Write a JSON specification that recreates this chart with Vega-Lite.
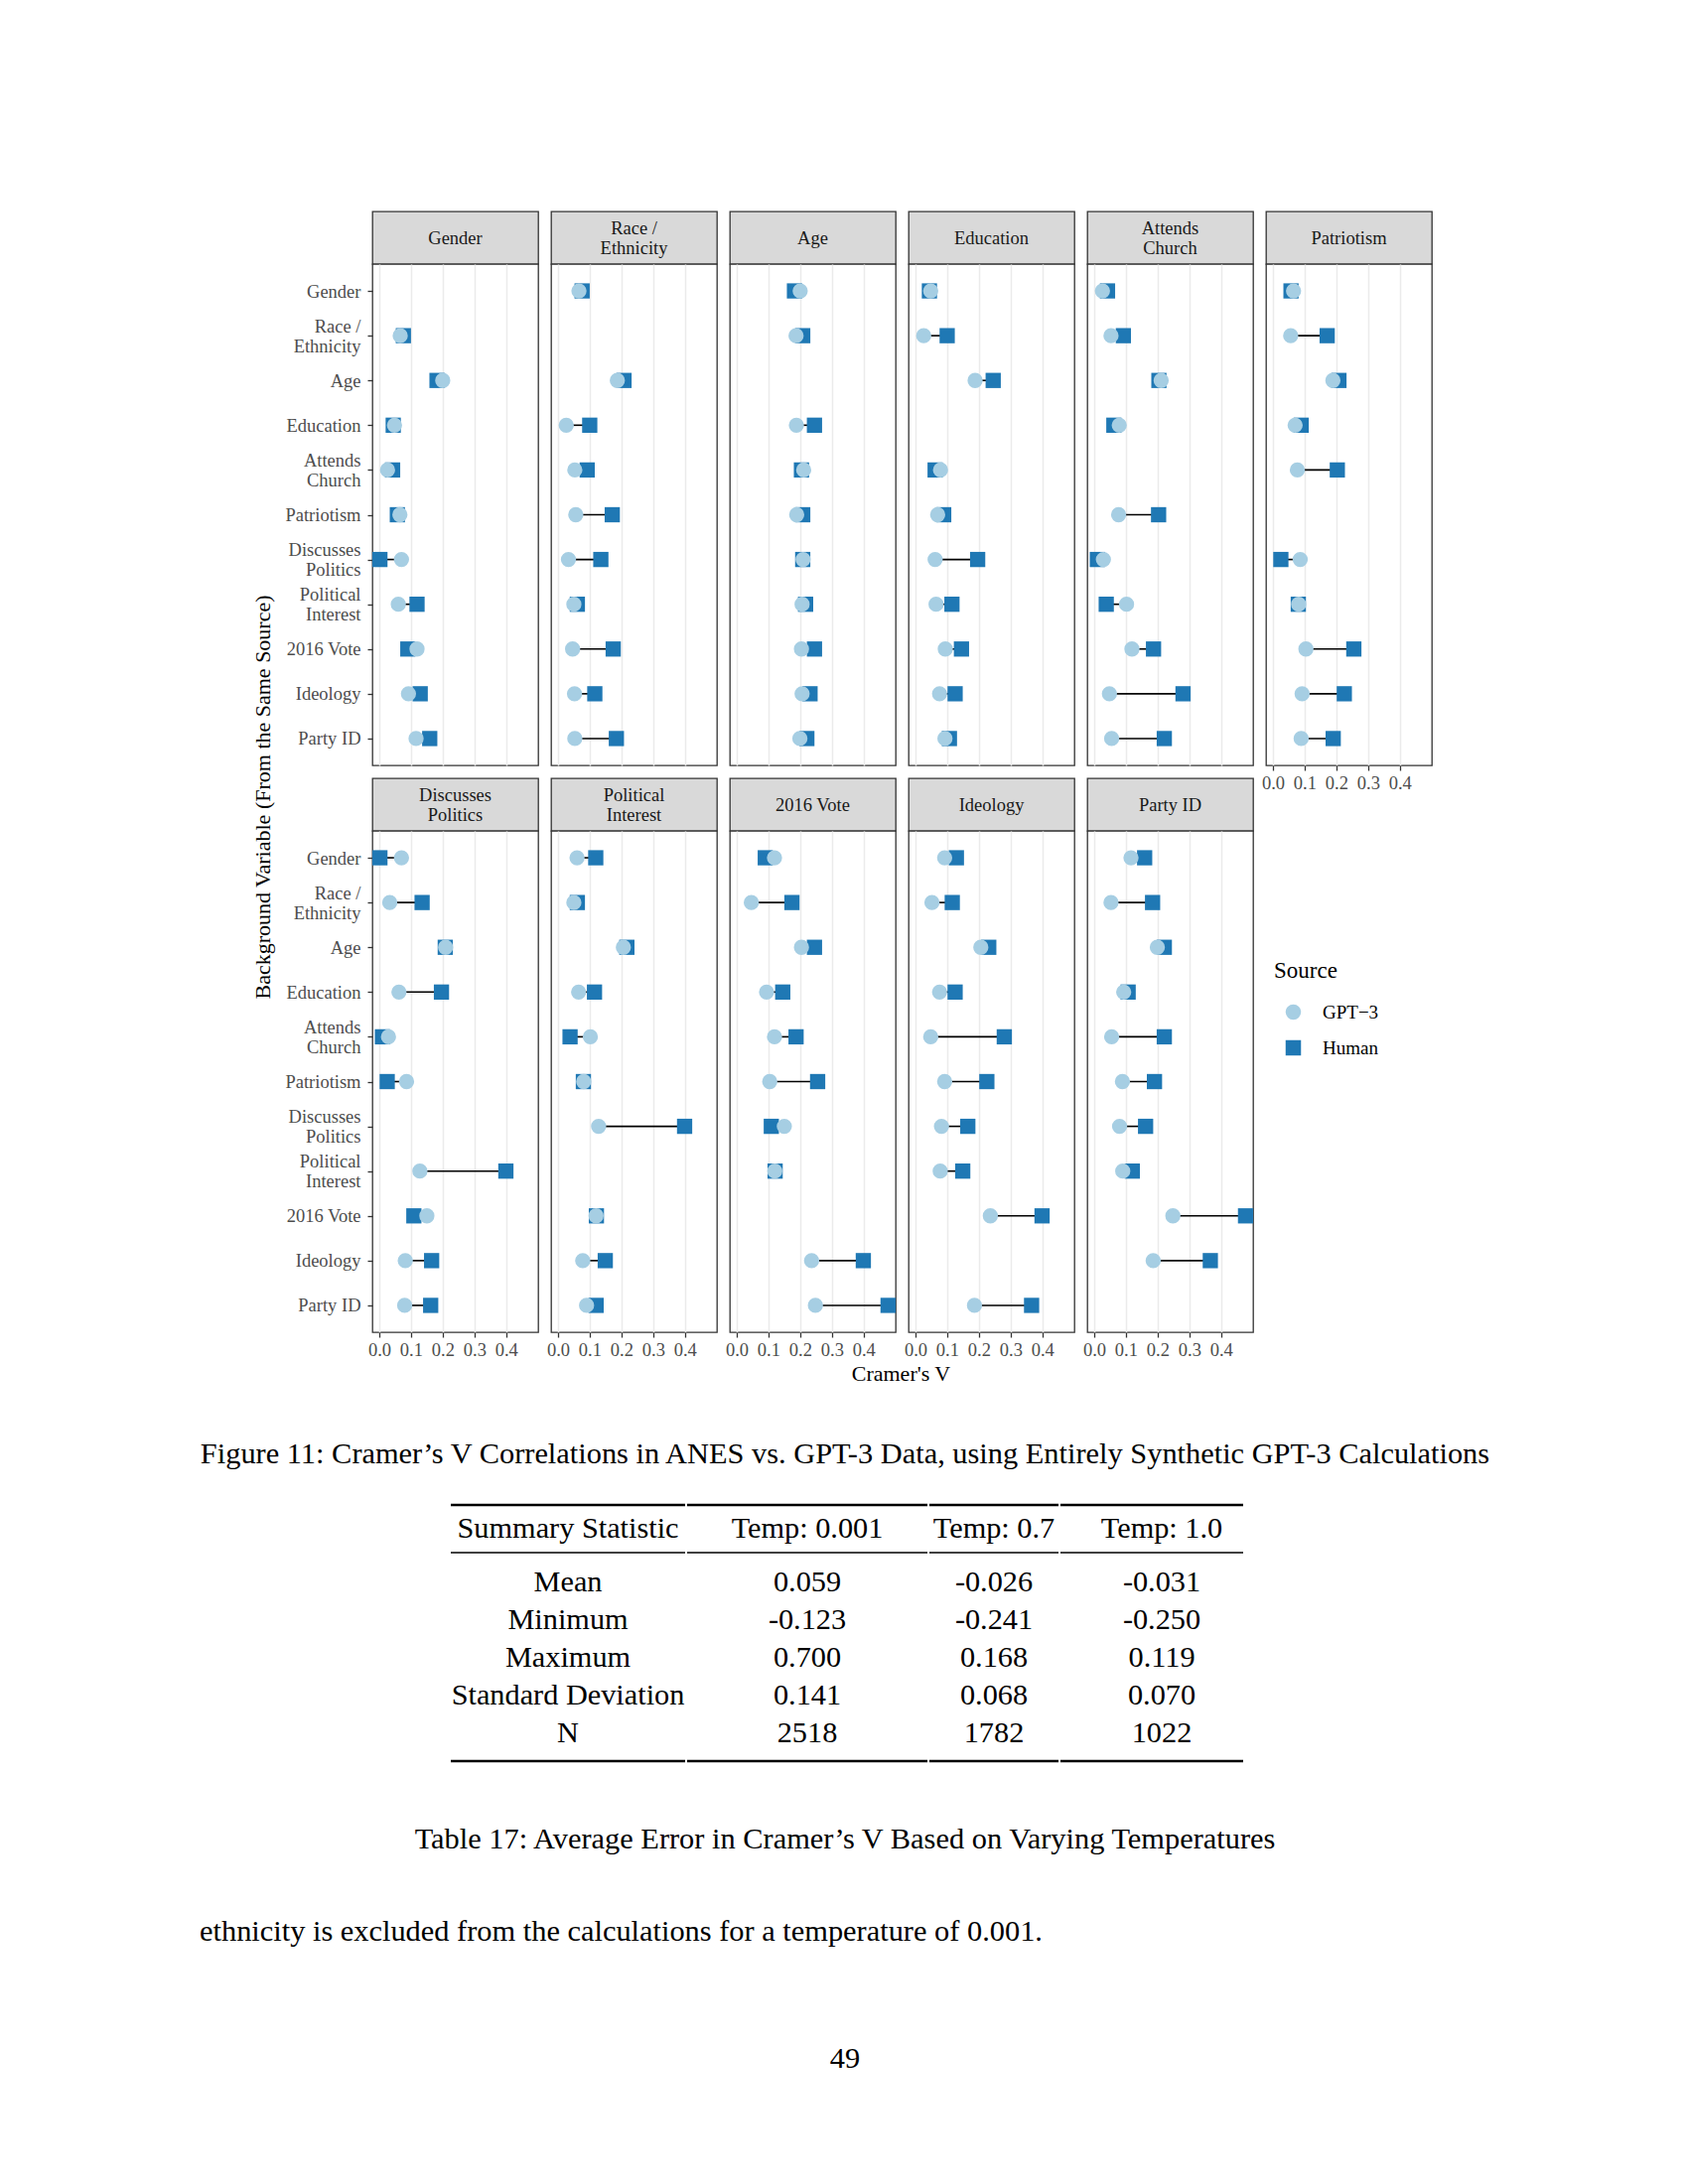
{
"$schema": "https://vega.github.io/schema/vega-lite/v6.json",
"background": "white",
"padding": {"left": 200, "top": 212, "right": 0, "bottom": 0},
"config": {
  "view": {"stroke": null},
  "font": "Liberation Serif",
  "title": {"font": "Liberation Serif", "fontWeight": "normal", "color": "black"},
  "text": {"font": "Liberation Serif"},
  "axis": {"domain": false, "labelFont": "Liberation Serif", "labelFontSize": 18.5, "labelColor": "#4D4D4D", "tickColor": "#333333", "tickWidth": 1.3, "tickSize": 5, "gridColor": "#EBEBEB", "gridWidth": 1.5, "labelPadding": 3},
  "legend": {"orient": "none", "legendX": 1082, "legendY": 754, "titleFont": "Liberation Serif", "titleFontSize": 23, "titleFontWeight": "normal", "titleColor": "black", "labelFont": "Liberation Serif", "labelFontSize": 19, "labelColor": "black", "symbolSize": 240, "rowPadding": 16, "titlePadding": 20, "labelOffset": 20, "symbolOffset": 10, "padding": 0}
},
"datasets": {
  "panels": [
    {"panel": "Gender", "label": "Gender"},
    {"panel": "Race / Ethnicity", "label": "Race /\nEthnicity"},
    {"panel": "Age", "label": "Age"},
    {"panel": "Education", "label": "Education"},
    {"panel": "Attends Church", "label": "Attends\nChurch"},
    {"panel": "Patriotism", "label": "Patriotism"},
    {"panel": "Discusses Politics", "label": "Discusses\nPolitics"},
    {"panel": "Political Interest", "label": "Political\nInterest"},
    {"panel": "2016 Vote", "label": "2016 Vote"},
    {"panel": "Ideology", "label": "Ideology"},
    {"panel": "Party ID", "label": "Party ID"}
  ],
  "tableHeader": [
    {"part": "header", "column": "Summary Statistic"},
    {"part": "header", "column": "Temp: 0.001"},
    {"part": "header", "column": "Temp: 0.7"},
    {"part": "header", "column": "Temp: 1.0"}
  ],
  "table": [
    {"stat": "Mean", "column": "Temp: 0.001", "value": "0.059"},
    {"stat": "Mean", "column": "Temp: 0.7", "value": "-0.026"},
    {"stat": "Mean", "column": "Temp: 1.0", "value": "-0.031"},
    {"stat": "Minimum", "column": "Temp: 0.001", "value": "-0.123"},
    {"stat": "Minimum", "column": "Temp: 0.7", "value": "-0.241"},
    {"stat": "Minimum", "column": "Temp: 1.0", "value": "-0.250"},
    {"stat": "Maximum", "column": "Temp: 0.001", "value": "0.700"},
    {"stat": "Maximum", "column": "Temp: 0.7", "value": "0.168"},
    {"stat": "Maximum", "column": "Temp: 1.0", "value": "0.119"},
    {"stat": "Standard Deviation", "column": "Temp: 0.001", "value": "0.141"},
    {"stat": "Standard Deviation", "column": "Temp: 0.7", "value": "0.068"},
    {"stat": "Standard Deviation", "column": "Temp: 1.0", "value": "0.070"},
    {"stat": "N", "column": "Temp: 0.001", "value": "2518"},
    {"stat": "N", "column": "Temp: 0.7", "value": "1782"},
    {"stat": "N", "column": "Temp: 1.0", "value": "1022"}
  ],
  "cv": [
    {"panel":"Gender","variable":"Race / Ethnicity","source":"GPT−3","cramer":0.066},{"panel":"Gender","variable":"Race / Ethnicity","source":"Human","cramer":0.076},
    {"panel":"Gender","variable":"Age","source":"GPT−3","cramer":0.200},{"panel":"Gender","variable":"Age","source":"Human","cramer":0.182},
    {"panel":"Gender","variable":"Education","source":"GPT−3","cramer":0.048},{"panel":"Gender","variable":"Education","source":"Human","cramer":0.044},
    {"panel":"Gender","variable":"Attends Church","source":"GPT−3","cramer":0.026},{"panel":"Gender","variable":"Attends Church","source":"Human","cramer":0.042},
    {"panel":"Gender","variable":"Patriotism","source":"GPT−3","cramer":0.065},{"panel":"Gender","variable":"Patriotism","source":"Human","cramer":0.057},
    {"panel":"Gender","variable":"Discusses Politics","source":"GPT−3","cramer":0.070},{"panel":"Gender","variable":"Discusses Politics","source":"Human","cramer":0.002},
    {"panel":"Gender","variable":"Political Interest","source":"GPT−3","cramer":0.060},{"panel":"Gender","variable":"Political Interest","source":"Human","cramer":0.119},
    {"panel":"Gender","variable":"2016 Vote","source":"GPT−3","cramer":0.119},{"panel":"Gender","variable":"2016 Vote","source":"Human","cramer":0.090},
    {"panel":"Gender","variable":"Ideology","source":"GPT−3","cramer":0.092},{"panel":"Gender","variable":"Ideology","source":"Human","cramer":0.129},
    {"panel":"Gender","variable":"Party ID","source":"GPT−3","cramer":0.116},{"panel":"Gender","variable":"Party ID","source":"Human","cramer":0.159},

    {"panel":"Race / Ethnicity","variable":"Gender","source":"GPT−3","cramer":0.066},{"panel":"Race / Ethnicity","variable":"Gender","source":"Human","cramer":0.076},
    {"panel":"Race / Ethnicity","variable":"Age","source":"GPT−3","cramer":0.187},{"panel":"Race / Ethnicity","variable":"Age","source":"Human","cramer":0.208},
    {"panel":"Race / Ethnicity","variable":"Education","source":"GPT−3","cramer":0.026},{"panel":"Race / Ethnicity","variable":"Education","source":"Human","cramer":0.100},
    {"panel":"Race / Ethnicity","variable":"Attends Church","source":"GPT−3","cramer":0.053},{"panel":"Race / Ethnicity","variable":"Attends Church","source":"Human","cramer":0.092},
    {"panel":"Race / Ethnicity","variable":"Patriotism","source":"GPT−3","cramer":0.056},{"panel":"Race / Ethnicity","variable":"Patriotism","source":"Human","cramer":0.171},
    {"panel":"Race / Ethnicity","variable":"Discusses Politics","source":"GPT−3","cramer":0.033},{"panel":"Race / Ethnicity","variable":"Discusses Politics","source":"Human","cramer":0.135},
    {"panel":"Race / Ethnicity","variable":"Political Interest","source":"GPT−3","cramer":0.050},{"panel":"Race / Ethnicity","variable":"Political Interest","source":"Human","cramer":0.061},
    {"panel":"Race / Ethnicity","variable":"2016 Vote","source":"GPT−3","cramer":0.046},{"panel":"Race / Ethnicity","variable":"2016 Vote","source":"Human","cramer":0.174},
    {"panel":"Race / Ethnicity","variable":"Ideology","source":"GPT−3","cramer":0.052},{"panel":"Race / Ethnicity","variable":"Ideology","source":"Human","cramer":0.116},
    {"panel":"Race / Ethnicity","variable":"Party ID","source":"GPT−3","cramer":0.053},{"panel":"Race / Ethnicity","variable":"Party ID","source":"Human","cramer":0.184},

    {"panel":"Age","variable":"Gender","source":"GPT−3","cramer":0.200},{"panel":"Age","variable":"Gender","source":"Human","cramer":0.182},
    {"panel":"Age","variable":"Race / Ethnicity","source":"GPT−3","cramer":0.187},{"panel":"Age","variable":"Race / Ethnicity","source":"Human","cramer":0.208},
    {"panel":"Age","variable":"Education","source":"GPT−3","cramer":0.188},{"panel":"Age","variable":"Education","source":"Human","cramer":0.245},
    {"panel":"Age","variable":"Attends Church","source":"GPT−3","cramer":0.211},{"panel":"Age","variable":"Attends Church","source":"Human","cramer":0.204},
    {"panel":"Age","variable":"Patriotism","source":"GPT−3","cramer":0.189},{"panel":"Age","variable":"Patriotism","source":"Human","cramer":0.208},
    {"panel":"Age","variable":"Discusses Politics","source":"GPT−3","cramer":0.209},{"panel":"Age","variable":"Discusses Politics","source":"Human","cramer":0.208},
    {"panel":"Age","variable":"Political Interest","source":"GPT−3","cramer":0.206},{"panel":"Age","variable":"Political Interest","source":"Human","cramer":0.217},
    {"panel":"Age","variable":"2016 Vote","source":"GPT−3","cramer":0.204},{"panel":"Age","variable":"2016 Vote","source":"Human","cramer":0.245},
    {"panel":"Age","variable":"Ideology","source":"GPT−3","cramer":0.206},{"panel":"Age","variable":"Ideology","source":"Human","cramer":0.231},
    {"panel":"Age","variable":"Party ID","source":"GPT−3","cramer":0.199},{"panel":"Age","variable":"Party ID","source":"Human","cramer":0.221},

    {"panel":"Education","variable":"Gender","source":"GPT−3","cramer":0.048},{"panel":"Education","variable":"Gender","source":"Human","cramer":0.044},
    {"panel":"Education","variable":"Race / Ethnicity","source":"GPT−3","cramer":0.026},{"panel":"Education","variable":"Race / Ethnicity","source":"Human","cramer":0.100},
    {"panel":"Education","variable":"Age","source":"GPT−3","cramer":0.188},{"panel":"Education","variable":"Age","source":"Human","cramer":0.245},
    {"panel":"Education","variable":"Attends Church","source":"GPT−3","cramer":0.079},{"panel":"Education","variable":"Attends Church","source":"Human","cramer":0.062},
    {"panel":"Education","variable":"Patriotism","source":"GPT−3","cramer":0.070},{"panel":"Education","variable":"Patriotism","source":"Human","cramer":0.089},
    {"panel":"Education","variable":"Discusses Politics","source":"GPT−3","cramer":0.062},{"panel":"Education","variable":"Discusses Politics","source":"Human","cramer":0.196},
    {"panel":"Education","variable":"Political Interest","source":"GPT−3","cramer":0.065},{"panel":"Education","variable":"Political Interest","source":"Human","cramer":0.115},
    {"panel":"Education","variable":"2016 Vote","source":"GPT−3","cramer":0.094},{"panel":"Education","variable":"2016 Vote","source":"Human","cramer":0.145},
    {"panel":"Education","variable":"Ideology","source":"GPT−3","cramer":0.076},{"panel":"Education","variable":"Ideology","source":"Human","cramer":0.125},
    {"panel":"Education","variable":"Party ID","source":"GPT−3","cramer":0.093},{"panel":"Education","variable":"Party ID","source":"Human","cramer":0.107},

    {"panel":"Attends Church","variable":"Gender","source":"GPT−3","cramer":0.026},{"panel":"Attends Church","variable":"Gender","source":"Human","cramer":0.042},
    {"panel":"Attends Church","variable":"Race / Ethnicity","source":"GPT−3","cramer":0.053},{"panel":"Attends Church","variable":"Race / Ethnicity","source":"Human","cramer":0.092},
    {"panel":"Attends Church","variable":"Age","source":"GPT−3","cramer":0.211},{"panel":"Attends Church","variable":"Age","source":"Human","cramer":0.204},
    {"panel":"Attends Church","variable":"Education","source":"GPT−3","cramer":0.079},{"panel":"Attends Church","variable":"Education","source":"Human","cramer":0.062},
    {"panel":"Attends Church","variable":"Patriotism","source":"GPT−3","cramer":0.077},{"panel":"Attends Church","variable":"Patriotism","source":"Human","cramer":0.203},
    {"panel":"Attends Church","variable":"Discusses Politics","source":"GPT−3","cramer":0.029},{"panel":"Attends Church","variable":"Discusses Politics","source":"Human","cramer":0.010},
    {"panel":"Attends Church","variable":"Political Interest","source":"GPT−3","cramer":0.102},{"panel":"Attends Church","variable":"Political Interest","source":"Human","cramer":0.038},
    {"panel":"Attends Church","variable":"2016 Vote","source":"GPT−3","cramer":0.119},{"panel":"Attends Church","variable":"2016 Vote","source":"Human","cramer":0.187},
    {"panel":"Attends Church","variable":"Ideology","source":"GPT−3","cramer":0.048},{"panel":"Attends Church","variable":"Ideology","source":"Human","cramer":0.280},
    {"panel":"Attends Church","variable":"Party ID","source":"GPT−3","cramer":0.055},{"panel":"Attends Church","variable":"Party ID","source":"Human","cramer":0.221},

    {"panel":"Patriotism","variable":"Gender","source":"GPT−3","cramer":0.065},{"panel":"Patriotism","variable":"Gender","source":"Human","cramer":0.057},
    {"panel":"Patriotism","variable":"Race / Ethnicity","source":"GPT−3","cramer":0.056},{"panel":"Patriotism","variable":"Race / Ethnicity","source":"Human","cramer":0.171},
    {"panel":"Patriotism","variable":"Age","source":"GPT−3","cramer":0.189},{"panel":"Patriotism","variable":"Age","source":"Human","cramer":0.208},
    {"panel":"Patriotism","variable":"Education","source":"GPT−3","cramer":0.070},{"panel":"Patriotism","variable":"Education","source":"Human","cramer":0.089},
    {"panel":"Patriotism","variable":"Attends Church","source":"GPT−3","cramer":0.077},{"panel":"Patriotism","variable":"Attends Church","source":"Human","cramer":0.203},
    {"panel":"Patriotism","variable":"Discusses Politics","source":"GPT−3","cramer":0.086},{"panel":"Patriotism","variable":"Discusses Politics","source":"Human","cramer":0.025},
    {"panel":"Patriotism","variable":"Political Interest","source":"GPT−3","cramer":0.081},{"panel":"Patriotism","variable":"Political Interest","source":"Human","cramer":0.080},
    {"panel":"Patriotism","variable":"2016 Vote","source":"GPT−3","cramer":0.104},{"panel":"Patriotism","variable":"2016 Vote","source":"Human","cramer":0.255},
    {"panel":"Patriotism","variable":"Ideology","source":"GPT−3","cramer":0.092},{"panel":"Patriotism","variable":"Ideology","source":"Human","cramer":0.225},
    {"panel":"Patriotism","variable":"Party ID","source":"GPT−3","cramer":0.089},{"panel":"Patriotism","variable":"Party ID","source":"Human","cramer":0.190},

    {"panel":"Discusses Politics","variable":"Gender","source":"GPT−3","cramer":0.070},{"panel":"Discusses Politics","variable":"Gender","source":"Human","cramer":0.002},
    {"panel":"Discusses Politics","variable":"Race / Ethnicity","source":"GPT−3","cramer":0.033},{"panel":"Discusses Politics","variable":"Race / Ethnicity","source":"Human","cramer":0.135},
    {"panel":"Discusses Politics","variable":"Age","source":"GPT−3","cramer":0.209},{"panel":"Discusses Politics","variable":"Age","source":"Human","cramer":0.208},
    {"panel":"Discusses Politics","variable":"Education","source":"GPT−3","cramer":0.062},{"panel":"Discusses Politics","variable":"Education","source":"Human","cramer":0.196},
    {"panel":"Discusses Politics","variable":"Attends Church","source":"GPT−3","cramer":0.029},{"panel":"Discusses Politics","variable":"Attends Church","source":"Human","cramer":0.010},
    {"panel":"Discusses Politics","variable":"Patriotism","source":"GPT−3","cramer":0.086},{"panel":"Discusses Politics","variable":"Patriotism","source":"Human","cramer":0.025},
    {"panel":"Discusses Politics","variable":"Political Interest","source":"GPT−3","cramer":0.128},{"panel":"Discusses Politics","variable":"Political Interest","source":"Human","cramer":0.399},
    {"panel":"Discusses Politics","variable":"2016 Vote","source":"GPT−3","cramer":0.150},{"panel":"Discusses Politics","variable":"2016 Vote","source":"Human","cramer":0.109},
    {"panel":"Discusses Politics","variable":"Ideology","source":"GPT−3","cramer":0.082},{"panel":"Discusses Politics","variable":"Ideology","source":"Human","cramer":0.165},
    {"panel":"Discusses Politics","variable":"Party ID","source":"GPT−3","cramer":0.080},{"panel":"Discusses Politics","variable":"Party ID","source":"Human","cramer":0.162},

    {"panel":"Political Interest","variable":"Gender","source":"GPT−3","cramer":0.060},{"panel":"Political Interest","variable":"Gender","source":"Human","cramer":0.119},
    {"panel":"Political Interest","variable":"Race / Ethnicity","source":"GPT−3","cramer":0.050},{"panel":"Political Interest","variable":"Race / Ethnicity","source":"Human","cramer":0.061},
    {"panel":"Political Interest","variable":"Age","source":"GPT−3","cramer":0.206},{"panel":"Political Interest","variable":"Age","source":"Human","cramer":0.217},
    {"panel":"Political Interest","variable":"Education","source":"GPT−3","cramer":0.065},{"panel":"Political Interest","variable":"Education","source":"Human","cramer":0.115},
    {"panel":"Political Interest","variable":"Attends Church","source":"GPT−3","cramer":0.102},{"panel":"Political Interest","variable":"Attends Church","source":"Human","cramer":0.038},
    {"panel":"Political Interest","variable":"Patriotism","source":"GPT−3","cramer":0.081},{"panel":"Political Interest","variable":"Patriotism","source":"Human","cramer":0.080},
    {"panel":"Political Interest","variable":"Discusses Politics","source":"GPT−3","cramer":0.128},{"panel":"Political Interest","variable":"Discusses Politics","source":"Human","cramer":0.399},
    {"panel":"Political Interest","variable":"2016 Vote","source":"GPT−3","cramer":0.120},{"panel":"Political Interest","variable":"2016 Vote","source":"Human","cramer":0.121},
    {"panel":"Political Interest","variable":"Ideology","source":"GPT−3","cramer":0.078},{"panel":"Political Interest","variable":"Ideology","source":"Human","cramer":0.149},
    {"panel":"Political Interest","variable":"Party ID","source":"GPT−3","cramer":0.090},{"panel":"Political Interest","variable":"Party ID","source":"Human","cramer":0.120},

    {"panel":"2016 Vote","variable":"Gender","source":"GPT−3","cramer":0.119},{"panel":"2016 Vote","variable":"Gender","source":"Human","cramer":0.090},
    {"panel":"2016 Vote","variable":"Race / Ethnicity","source":"GPT−3","cramer":0.046},{"panel":"2016 Vote","variable":"Race / Ethnicity","source":"Human","cramer":0.174},
    {"panel":"2016 Vote","variable":"Age","source":"GPT−3","cramer":0.204},{"panel":"2016 Vote","variable":"Age","source":"Human","cramer":0.245},
    {"panel":"2016 Vote","variable":"Education","source":"GPT−3","cramer":0.094},{"panel":"2016 Vote","variable":"Education","source":"Human","cramer":0.145},
    {"panel":"2016 Vote","variable":"Attends Church","source":"GPT−3","cramer":0.119},{"panel":"2016 Vote","variable":"Attends Church","source":"Human","cramer":0.187},
    {"panel":"2016 Vote","variable":"Patriotism","source":"GPT−3","cramer":0.104},{"panel":"2016 Vote","variable":"Patriotism","source":"Human","cramer":0.255},
    {"panel":"2016 Vote","variable":"Discusses Politics","source":"GPT−3","cramer":0.150},{"panel":"2016 Vote","variable":"Discusses Politics","source":"Human","cramer":0.109},
    {"panel":"2016 Vote","variable":"Political Interest","source":"GPT−3","cramer":0.120},{"panel":"2016 Vote","variable":"Political Interest","source":"Human","cramer":0.121},
    {"panel":"2016 Vote","variable":"Ideology","source":"GPT−3","cramer":0.236},{"panel":"2016 Vote","variable":"Ideology","source":"Human","cramer":0.399},
    {"panel":"2016 Vote","variable":"Party ID","source":"GPT−3","cramer":0.248},{"panel":"2016 Vote","variable":"Party ID","source":"Human","cramer":0.477},

    {"panel":"Ideology","variable":"Gender","source":"GPT−3","cramer":0.092},{"panel":"Ideology","variable":"Gender","source":"Human","cramer":0.129},
    {"panel":"Ideology","variable":"Race / Ethnicity","source":"GPT−3","cramer":0.052},{"panel":"Ideology","variable":"Race / Ethnicity","source":"Human","cramer":0.116},
    {"panel":"Ideology","variable":"Age","source":"GPT−3","cramer":0.206},{"panel":"Ideology","variable":"Age","source":"Human","cramer":0.231},
    {"panel":"Ideology","variable":"Education","source":"GPT−3","cramer":0.076},{"panel":"Ideology","variable":"Education","source":"Human","cramer":0.125},
    {"panel":"Ideology","variable":"Attends Church","source":"GPT−3","cramer":0.048},{"panel":"Ideology","variable":"Attends Church","source":"Human","cramer":0.280},
    {"panel":"Ideology","variable":"Patriotism","source":"GPT−3","cramer":0.092},{"panel":"Ideology","variable":"Patriotism","source":"Human","cramer":0.225},
    {"panel":"Ideology","variable":"Discusses Politics","source":"GPT−3","cramer":0.082},{"panel":"Ideology","variable":"Discusses Politics","source":"Human","cramer":0.165},
    {"panel":"Ideology","variable":"Political Interest","source":"GPT−3","cramer":0.078},{"panel":"Ideology","variable":"Political Interest","source":"Human","cramer":0.149},
    {"panel":"Ideology","variable":"2016 Vote","source":"GPT−3","cramer":0.236},{"panel":"Ideology","variable":"2016 Vote","source":"Human","cramer":0.399},
    {"panel":"Ideology","variable":"Party ID","source":"GPT−3","cramer":0.186},{"panel":"Ideology","variable":"Party ID","source":"Human","cramer":0.366},

    {"panel":"Party ID","variable":"Gender","source":"GPT−3","cramer":0.116},{"panel":"Party ID","variable":"Gender","source":"Human","cramer":0.159},
    {"panel":"Party ID","variable":"Race / Ethnicity","source":"GPT−3","cramer":0.053},{"panel":"Party ID","variable":"Race / Ethnicity","source":"Human","cramer":0.184},
    {"panel":"Party ID","variable":"Age","source":"GPT−3","cramer":0.199},{"panel":"Party ID","variable":"Age","source":"Human","cramer":0.221},
    {"panel":"Party ID","variable":"Education","source":"GPT−3","cramer":0.093},{"panel":"Party ID","variable":"Education","source":"Human","cramer":0.107},
    {"panel":"Party ID","variable":"Attends Church","source":"GPT−3","cramer":0.055},{"panel":"Party ID","variable":"Attends Church","source":"Human","cramer":0.221},
    {"panel":"Party ID","variable":"Patriotism","source":"GPT−3","cramer":0.089},{"panel":"Party ID","variable":"Patriotism","source":"Human","cramer":0.190},
    {"panel":"Party ID","variable":"Discusses Politics","source":"GPT−3","cramer":0.080},{"panel":"Party ID","variable":"Discusses Politics","source":"Human","cramer":0.162},
    {"panel":"Party ID","variable":"Political Interest","source":"GPT−3","cramer":0.090},{"panel":"Party ID","variable":"Political Interest","source":"Human","cramer":0.120},
    {"panel":"Party ID","variable":"2016 Vote","source":"GPT−3","cramer":0.248},{"panel":"Party ID","variable":"2016 Vote","source":"Human","cramer":0.477},
    {"panel":"Party ID","variable":"Ideology","source":"GPT−3","cramer":0.186},{"panel":"Party ID","variable":"Ideology","source":"Human","cramer":0.366}
  ]
},
"spacing": 20,
"vconcat": [
  {
    "spacing": -42,
    "hconcat": [
      {"width": 127, "height": 1180, "data": {"values": [{"title": "Background Variable (From the Same Source)"}]}, "mark": {"type": "text", "angle": 270, "fontSize": 22, "color": "black"}, "encoding": {"text": {"field": "title"}}},
      {
        "title": {"text": "Cramer's V", "orient": "bottom", "anchor": "middle", "fontSize": 22, "offset": 5, "dx": 43},
        "spacing": 6,
        "hconcat": [
          {"bounds": "flush", "spacing": 0, "vconcat": [
            {"width": 167, "height": 53, "view": {"fill": "#D9D9D9", "stroke": "#333333", "strokeWidth": 1.3}, "data": {"name": "panels"}, "transform": [{"filter": "datum.panel == 'Gender'"}], "mark": {"type": "text", "fontSize": 18.5, "color": "#1A1A1A", "lineBreak": "\n", "lineHeight": 20}, "encoding": {"text": {"field": "label"}}},
            {"width": 167, "height": 505, "view": {"fill": "white", "stroke": "#333333", "strokeWidth": 1.3}, "data": {"name": "cv"}, "transform": [{"filter": "datum.panel == 'Gender'"}],
             "encoding": {"y": {"field": "variable", "type": "nominal", "scale": {"type": "point", "padding": 0.6, "domain": ["Gender","Race / Ethnicity","Age","Education","Attends Church","Patriotism","Discusses Politics","Political Interest","2016 Vote","Ideology","Party ID"]}, "axis": {"title": null, "labelExpr": "datum.label == 'Race / Ethnicity' ? ['Race /', 'Ethnicity'] : datum.label == 'Attends Church' ? ['Attends', 'Church'] : datum.label == 'Discusses Politics' ? ['Discusses', 'Politics'] : datum.label == 'Political Interest' ? ['Political', 'Interest'] : datum.label", "labelLineHeight": 20, "labelPadding": 7, "labelOffset": {"condition": {"test": "indexof(['Race / Ethnicity', 'Attends Church', 'Discusses Politics', 'Political Interest'], datum.value) >= 0", "value": -10}, "value": 0}}}},
             "layer": [
               {"transform": [{"pivot": "source", "value": "cramer", "groupby": ["variable"]}], "mark": {"type": "rule", "color": "black", "strokeWidth": 1.6}, "encoding": {"x": {"field": "GPT−3", "type": "quantitative", "scale": {"domain": [-0.0218, 0.5008], "nice": false, "zero": false}, "axis": {"title": null, "values": [0,0.05,0.1,0.15,0.2,0.25,0.3,0.35,0.4,0.45], "labels": false, "ticks": false, "gridWidth": {"condition": {"test": "round(datum.value*100) % 10 != 0", "value": 0.75}, "value": 1.5}}}, "x2": {"field": "Human"}}},
               {"mark": {"type": "point", "filled": true, "size": 235, "opacity": 1}, "encoding": {"x": {"field": "cramer", "type": "quantitative", "scale": {"domain": [-0.0218, 0.5008], "nice": false, "zero": false}}, "color": {"field": "source", "type": "nominal", "title": "Source", "scale": {"domain": ["GPT−3","Human"], "range": ["#A6CEE3","#1F78B4"]}}, "shape": {"field": "source", "type": "nominal", "title": "Source", "scale": {"domain": ["GPT−3","Human"], "range": ["circle","square"]}}, "order": {"field": "source", "sort": "descending"}}}
             ]},
            {"width": 167, "height": 12.6, "data": {"values": []}, "mark": {"type": "text"}},
            {"width": 167, "height": 53, "view": {"fill": "#D9D9D9", "stroke": "#333333", "strokeWidth": 1.3}, "data": {"name": "panels"}, "transform": [{"filter": "datum.panel == 'Discusses Politics'"}], "mark": {"type": "text", "fontSize": 18.5, "color": "#1A1A1A", "lineBreak": "\n", "lineHeight": 20, "dy": -10}, "encoding": {"text": {"field": "label"}}},
            {"width": 167, "height": 505, "view": {"fill": "white", "stroke": "#333333", "strokeWidth": 1.3}, "data": {"name": "cv"}, "transform": [{"filter": "datum.panel == 'Discusses Politics'"}],
             "encoding": {"y": {"field": "variable", "type": "nominal", "scale": {"type": "point", "padding": 0.6, "domain": ["Gender","Race / Ethnicity","Age","Education","Attends Church","Patriotism","Discusses Politics","Political Interest","2016 Vote","Ideology","Party ID"]}, "axis": {"title": null, "labelExpr": "datum.label == 'Race / Ethnicity' ? ['Race /', 'Ethnicity'] : datum.label == 'Attends Church' ? ['Attends', 'Church'] : datum.label == 'Discusses Politics' ? ['Discusses', 'Politics'] : datum.label == 'Political Interest' ? ['Political', 'Interest'] : datum.label", "labelLineHeight": 20, "labelPadding": 7, "labelOffset": {"condition": {"test": "indexof(['Race / Ethnicity', 'Attends Church', 'Discusses Politics', 'Political Interest'], datum.value) >= 0", "value": -10}, "value": 0}}}},
             "layer": [
               {"transform": [{"pivot": "source", "value": "cramer", "groupby": ["variable"]}], "mark": {"type": "rule", "color": "black", "strokeWidth": 1.6}, "encoding": {"x": {"field": "GPT−3", "type": "quantitative", "scale": {"domain": [-0.0218, 0.5008], "nice": false, "zero": false}, "axis": {"title": null, "values": [0,0.05,0.1,0.15,0.2,0.25,0.3,0.35,0.4,0.45], "labelExpr": "round(datum.value*100) % 10 == 0 ? format(datum.value, '.1f') : ''", "labelOverlap": false, "labelFlush": false, "gridWidth": {"condition": {"test": "round(datum.value*100) % 10 != 0", "value": 0.75}, "value": 1.5}, "tickOpacity": {"condition": {"test": "round(datum.value*100) % 10 != 0", "value": 0}, "value": 1}}}, "x2": {"field": "Human"}}},
               {"mark": {"type": "point", "filled": true, "size": 235, "opacity": 1}, "encoding": {"x": {"field": "cramer", "type": "quantitative", "scale": {"domain": [-0.0218, 0.5008], "nice": false, "zero": false}}, "color": {"field": "source", "type": "nominal", "title": "Source", "scale": {"domain": ["GPT−3","Human"], "range": ["#A6CEE3","#1F78B4"]}}, "shape": {"field": "source", "type": "nominal", "title": "Source", "scale": {"domain": ["GPT−3","Human"], "range": ["circle","square"]}}, "order": {"field": "source", "sort": "descending"}}}
             ]}
          ]},
          {"bounds": "flush", "spacing": 0, "vconcat": [
            {"width": 167, "height": 53, "view": {"fill": "#D9D9D9", "stroke": "#333333", "strokeWidth": 1.3}, "data": {"name": "panels"}, "transform": [{"filter": "datum.panel == 'Race / Ethnicity'"}], "mark": {"type": "text", "fontSize": 18.5, "color": "#1A1A1A", "lineBreak": "\n", "lineHeight": 20, "dy": -10}, "encoding": {"text": {"field": "label"}}},
            {"width": 167, "height": 505, "view": {"fill": "white", "stroke": "#333333", "strokeWidth": 1.3}, "data": {"name": "cv"}, "transform": [{"filter": "datum.panel == 'Race / Ethnicity'"}],
             "encoding": {"y": {"field": "variable", "type": "nominal", "scale": {"type": "point", "padding": 0.6, "domain": ["Gender","Race / Ethnicity","Age","Education","Attends Church","Patriotism","Discusses Politics","Political Interest","2016 Vote","Ideology","Party ID"]}, "axis": {"title": null, "labels": false, "ticks": false}}},
             "layer": [
               {"transform": [{"pivot": "source", "value": "cramer", "groupby": ["variable"]}], "mark": {"type": "rule", "color": "black", "strokeWidth": 1.6}, "encoding": {"x": {"field": "GPT−3", "type": "quantitative", "scale": {"domain": [-0.0218, 0.5008], "nice": false, "zero": false}, "axis": {"title": null, "values": [0,0.05,0.1,0.15,0.2,0.25,0.3,0.35,0.4,0.45], "labels": false, "ticks": false, "gridWidth": {"condition": {"test": "round(datum.value*100) % 10 != 0", "value": 0.75}, "value": 1.5}}}, "x2": {"field": "Human"}}},
               {"mark": {"type": "point", "filled": true, "size": 235, "opacity": 1}, "encoding": {"x": {"field": "cramer", "type": "quantitative", "scale": {"domain": [-0.0218, 0.5008], "nice": false, "zero": false}}, "color": {"field": "source", "type": "nominal", "title": "Source", "scale": {"domain": ["GPT−3","Human"], "range": ["#A6CEE3","#1F78B4"]}}, "shape": {"field": "source", "type": "nominal", "title": "Source", "scale": {"domain": ["GPT−3","Human"], "range": ["circle","square"]}}, "order": {"field": "source", "sort": "descending"}}}
             ]},
            {"width": 167, "height": 12.6, "data": {"values": []}, "mark": {"type": "text"}},
            {"width": 167, "height": 53, "view": {"fill": "#D9D9D9", "stroke": "#333333", "strokeWidth": 1.3}, "data": {"name": "panels"}, "transform": [{"filter": "datum.panel == 'Political Interest'"}], "mark": {"type": "text", "fontSize": 18.5, "color": "#1A1A1A", "lineBreak": "\n", "lineHeight": 20, "dy": -10}, "encoding": {"text": {"field": "label"}}},
            {"width": 167, "height": 505, "view": {"fill": "white", "stroke": "#333333", "strokeWidth": 1.3}, "data": {"name": "cv"}, "transform": [{"filter": "datum.panel == 'Political Interest'"}],
             "encoding": {"y": {"field": "variable", "type": "nominal", "scale": {"type": "point", "padding": 0.6, "domain": ["Gender","Race / Ethnicity","Age","Education","Attends Church","Patriotism","Discusses Politics","Political Interest","2016 Vote","Ideology","Party ID"]}, "axis": {"title": null, "labels": false, "ticks": false}}},
             "layer": [
               {"transform": [{"pivot": "source", "value": "cramer", "groupby": ["variable"]}], "mark": {"type": "rule", "color": "black", "strokeWidth": 1.6}, "encoding": {"x": {"field": "GPT−3", "type": "quantitative", "scale": {"domain": [-0.0218, 0.5008], "nice": false, "zero": false}, "axis": {"title": null, "values": [0,0.05,0.1,0.15,0.2,0.25,0.3,0.35,0.4,0.45], "labelExpr": "round(datum.value*100) % 10 == 0 ? format(datum.value, '.1f') : ''", "labelOverlap": false, "labelFlush": false, "gridWidth": {"condition": {"test": "round(datum.value*100) % 10 != 0", "value": 0.75}, "value": 1.5}, "tickOpacity": {"condition": {"test": "round(datum.value*100) % 10 != 0", "value": 0}, "value": 1}}}, "x2": {"field": "Human"}}},
               {"mark": {"type": "point", "filled": true, "size": 235, "opacity": 1}, "encoding": {"x": {"field": "cramer", "type": "quantitative", "scale": {"domain": [-0.0218, 0.5008], "nice": false, "zero": false}}, "color": {"field": "source", "type": "nominal", "title": "Source", "scale": {"domain": ["GPT−3","Human"], "range": ["#A6CEE3","#1F78B4"]}}, "shape": {"field": "source", "type": "nominal", "title": "Source", "scale": {"domain": ["GPT−3","Human"], "range": ["circle","square"]}}, "order": {"field": "source", "sort": "descending"}}}
             ]}
          ]},
          {"bounds": "flush", "spacing": 0, "vconcat": [
            {"width": 167, "height": 53, "view": {"fill": "#D9D9D9", "stroke": "#333333", "strokeWidth": 1.3}, "data": {"name": "panels"}, "transform": [{"filter": "datum.panel == 'Age'"}], "mark": {"type": "text", "fontSize": 18.5, "color": "#1A1A1A", "lineBreak": "\n", "lineHeight": 20}, "encoding": {"text": {"field": "label"}}},
            {"width": 167, "height": 505, "view": {"fill": "white", "stroke": "#333333", "strokeWidth": 1.3}, "data": {"name": "cv"}, "transform": [{"filter": "datum.panel == 'Age'"}],
             "encoding": {"y": {"field": "variable", "type": "nominal", "scale": {"type": "point", "padding": 0.6, "domain": ["Gender","Race / Ethnicity","Age","Education","Attends Church","Patriotism","Discusses Politics","Political Interest","2016 Vote","Ideology","Party ID"]}, "axis": {"title": null, "labels": false, "ticks": false}}},
             "layer": [
               {"transform": [{"pivot": "source", "value": "cramer", "groupby": ["variable"]}], "mark": {"type": "rule", "color": "black", "strokeWidth": 1.6}, "encoding": {"x": {"field": "GPT−3", "type": "quantitative", "scale": {"domain": [-0.0218, 0.5008], "nice": false, "zero": false}, "axis": {"title": null, "values": [0,0.05,0.1,0.15,0.2,0.25,0.3,0.35,0.4,0.45], "labels": false, "ticks": false, "gridWidth": {"condition": {"test": "round(datum.value*100) % 10 != 0", "value": 0.75}, "value": 1.5}}}, "x2": {"field": "Human"}}},
               {"mark": {"type": "point", "filled": true, "size": 235, "opacity": 1}, "encoding": {"x": {"field": "cramer", "type": "quantitative", "scale": {"domain": [-0.0218, 0.5008], "nice": false, "zero": false}}, "color": {"field": "source", "type": "nominal", "title": "Source", "scale": {"domain": ["GPT−3","Human"], "range": ["#A6CEE3","#1F78B4"]}}, "shape": {"field": "source", "type": "nominal", "title": "Source", "scale": {"domain": ["GPT−3","Human"], "range": ["circle","square"]}}, "order": {"field": "source", "sort": "descending"}}}
             ]},
            {"width": 167, "height": 12.6, "data": {"values": []}, "mark": {"type": "text"}},
            {"width": 167, "height": 53, "view": {"fill": "#D9D9D9", "stroke": "#333333", "strokeWidth": 1.3}, "data": {"name": "panels"}, "transform": [{"filter": "datum.panel == '2016 Vote'"}], "mark": {"type": "text", "fontSize": 18.5, "color": "#1A1A1A", "lineBreak": "\n", "lineHeight": 20}, "encoding": {"text": {"field": "label"}}},
            {"width": 167, "height": 505, "view": {"fill": "white", "stroke": "#333333", "strokeWidth": 1.3}, "data": {"name": "cv"}, "transform": [{"filter": "datum.panel == '2016 Vote'"}],
             "encoding": {"y": {"field": "variable", "type": "nominal", "scale": {"type": "point", "padding": 0.6, "domain": ["Gender","Race / Ethnicity","Age","Education","Attends Church","Patriotism","Discusses Politics","Political Interest","2016 Vote","Ideology","Party ID"]}, "axis": {"title": null, "labels": false, "ticks": false}}},
             "layer": [
               {"transform": [{"pivot": "source", "value": "cramer", "groupby": ["variable"]}], "mark": {"type": "rule", "color": "black", "strokeWidth": 1.6}, "encoding": {"x": {"field": "GPT−3", "type": "quantitative", "scale": {"domain": [-0.0218, 0.5008], "nice": false, "zero": false}, "axis": {"title": null, "values": [0,0.05,0.1,0.15,0.2,0.25,0.3,0.35,0.4,0.45], "labelExpr": "round(datum.value*100) % 10 == 0 ? format(datum.value, '.1f') : ''", "labelOverlap": false, "labelFlush": false, "gridWidth": {"condition": {"test": "round(datum.value*100) % 10 != 0", "value": 0.75}, "value": 1.5}, "tickOpacity": {"condition": {"test": "round(datum.value*100) % 10 != 0", "value": 0}, "value": 1}}}, "x2": {"field": "Human"}}},
               {"mark": {"type": "point", "filled": true, "size": 235, "opacity": 1}, "encoding": {"x": {"field": "cramer", "type": "quantitative", "scale": {"domain": [-0.0218, 0.5008], "nice": false, "zero": false}}, "color": {"field": "source", "type": "nominal", "title": "Source", "scale": {"domain": ["GPT−3","Human"], "range": ["#A6CEE3","#1F78B4"]}}, "shape": {"field": "source", "type": "nominal", "title": "Source", "scale": {"domain": ["GPT−3","Human"], "range": ["circle","square"]}}, "order": {"field": "source", "sort": "descending"}}}
             ]}
          ]},
          {"bounds": "flush", "spacing": 0, "vconcat": [
            {"width": 167, "height": 53, "view": {"fill": "#D9D9D9", "stroke": "#333333", "strokeWidth": 1.3}, "data": {"name": "panels"}, "transform": [{"filter": "datum.panel == 'Education'"}], "mark": {"type": "text", "fontSize": 18.5, "color": "#1A1A1A", "lineBreak": "\n", "lineHeight": 20}, "encoding": {"text": {"field": "label"}}},
            {"width": 167, "height": 505, "view": {"fill": "white", "stroke": "#333333", "strokeWidth": 1.3}, "data": {"name": "cv"}, "transform": [{"filter": "datum.panel == 'Education'"}],
             "encoding": {"y": {"field": "variable", "type": "nominal", "scale": {"type": "point", "padding": 0.6, "domain": ["Gender","Race / Ethnicity","Age","Education","Attends Church","Patriotism","Discusses Politics","Political Interest","2016 Vote","Ideology","Party ID"]}, "axis": {"title": null, "labels": false, "ticks": false}}},
             "layer": [
               {"transform": [{"pivot": "source", "value": "cramer", "groupby": ["variable"]}], "mark": {"type": "rule", "color": "black", "strokeWidth": 1.6}, "encoding": {"x": {"field": "GPT−3", "type": "quantitative", "scale": {"domain": [-0.0218, 0.5008], "nice": false, "zero": false}, "axis": {"title": null, "values": [0,0.05,0.1,0.15,0.2,0.25,0.3,0.35,0.4,0.45], "labels": false, "ticks": false, "gridWidth": {"condition": {"test": "round(datum.value*100) % 10 != 0", "value": 0.75}, "value": 1.5}}}, "x2": {"field": "Human"}}},
               {"mark": {"type": "point", "filled": true, "size": 235, "opacity": 1}, "encoding": {"x": {"field": "cramer", "type": "quantitative", "scale": {"domain": [-0.0218, 0.5008], "nice": false, "zero": false}}, "color": {"field": "source", "type": "nominal", "title": "Source", "scale": {"domain": ["GPT−3","Human"], "range": ["#A6CEE3","#1F78B4"]}}, "shape": {"field": "source", "type": "nominal", "title": "Source", "scale": {"domain": ["GPT−3","Human"], "range": ["circle","square"]}}, "order": {"field": "source", "sort": "descending"}}}
             ]},
            {"width": 167, "height": 12.6, "data": {"values": []}, "mark": {"type": "text"}},
            {"width": 167, "height": 53, "view": {"fill": "#D9D9D9", "stroke": "#333333", "strokeWidth": 1.3}, "data": {"name": "panels"}, "transform": [{"filter": "datum.panel == 'Ideology'"}], "mark": {"type": "text", "fontSize": 18.5, "color": "#1A1A1A", "lineBreak": "\n", "lineHeight": 20}, "encoding": {"text": {"field": "label"}}},
            {"width": 167, "height": 505, "view": {"fill": "white", "stroke": "#333333", "strokeWidth": 1.3}, "data": {"name": "cv"}, "transform": [{"filter": "datum.panel == 'Ideology'"}],
             "encoding": {"y": {"field": "variable", "type": "nominal", "scale": {"type": "point", "padding": 0.6, "domain": ["Gender","Race / Ethnicity","Age","Education","Attends Church","Patriotism","Discusses Politics","Political Interest","2016 Vote","Ideology","Party ID"]}, "axis": {"title": null, "labels": false, "ticks": false}}},
             "layer": [
               {"transform": [{"pivot": "source", "value": "cramer", "groupby": ["variable"]}], "mark": {"type": "rule", "color": "black", "strokeWidth": 1.6}, "encoding": {"x": {"field": "GPT−3", "type": "quantitative", "scale": {"domain": [-0.0218, 0.5008], "nice": false, "zero": false}, "axis": {"title": null, "values": [0,0.05,0.1,0.15,0.2,0.25,0.3,0.35,0.4,0.45], "labelExpr": "round(datum.value*100) % 10 == 0 ? format(datum.value, '.1f') : ''", "labelOverlap": false, "labelFlush": false, "gridWidth": {"condition": {"test": "round(datum.value*100) % 10 != 0", "value": 0.75}, "value": 1.5}, "tickOpacity": {"condition": {"test": "round(datum.value*100) % 10 != 0", "value": 0}, "value": 1}}}, "x2": {"field": "Human"}}},
               {"mark": {"type": "point", "filled": true, "size": 235, "opacity": 1}, "encoding": {"x": {"field": "cramer", "type": "quantitative", "scale": {"domain": [-0.0218, 0.5008], "nice": false, "zero": false}}, "color": {"field": "source", "type": "nominal", "title": "Source", "scale": {"domain": ["GPT−3","Human"], "range": ["#A6CEE3","#1F78B4"]}}, "shape": {"field": "source", "type": "nominal", "title": "Source", "scale": {"domain": ["GPT−3","Human"], "range": ["circle","square"]}}, "order": {"field": "source", "sort": "descending"}}}
             ]}
          ]},
          {"bounds": "flush", "spacing": 0, "vconcat": [
            {"width": 167, "height": 53, "view": {"fill": "#D9D9D9", "stroke": "#333333", "strokeWidth": 1.3}, "data": {"name": "panels"}, "transform": [{"filter": "datum.panel == 'Attends Church'"}], "mark": {"type": "text", "fontSize": 18.5, "color": "#1A1A1A", "lineBreak": "\n", "lineHeight": 20, "dy": -10}, "encoding": {"text": {"field": "label"}}},
            {"width": 167, "height": 505, "view": {"fill": "white", "stroke": "#333333", "strokeWidth": 1.3}, "data": {"name": "cv"}, "transform": [{"filter": "datum.panel == 'Attends Church'"}],
             "encoding": {"y": {"field": "variable", "type": "nominal", "scale": {"type": "point", "padding": 0.6, "domain": ["Gender","Race / Ethnicity","Age","Education","Attends Church","Patriotism","Discusses Politics","Political Interest","2016 Vote","Ideology","Party ID"]}, "axis": {"title": null, "labels": false, "ticks": false}}},
             "layer": [
               {"transform": [{"pivot": "source", "value": "cramer", "groupby": ["variable"]}], "mark": {"type": "rule", "color": "black", "strokeWidth": 1.6}, "encoding": {"x": {"field": "GPT−3", "type": "quantitative", "scale": {"domain": [-0.0218, 0.5008], "nice": false, "zero": false}, "axis": {"title": null, "values": [0,0.05,0.1,0.15,0.2,0.25,0.3,0.35,0.4,0.45], "labels": false, "ticks": false, "gridWidth": {"condition": {"test": "round(datum.value*100) % 10 != 0", "value": 0.75}, "value": 1.5}}}, "x2": {"field": "Human"}}},
               {"mark": {"type": "point", "filled": true, "size": 235, "opacity": 1}, "encoding": {"x": {"field": "cramer", "type": "quantitative", "scale": {"domain": [-0.0218, 0.5008], "nice": false, "zero": false}}, "color": {"field": "source", "type": "nominal", "title": "Source", "scale": {"domain": ["GPT−3","Human"], "range": ["#A6CEE3","#1F78B4"]}}, "shape": {"field": "source", "type": "nominal", "title": "Source", "scale": {"domain": ["GPT−3","Human"], "range": ["circle","square"]}}, "order": {"field": "source", "sort": "descending"}}}
             ]},
            {"width": 167, "height": 12.6, "data": {"values": []}, "mark": {"type": "text"}},
            {"width": 167, "height": 53, "view": {"fill": "#D9D9D9", "stroke": "#333333", "strokeWidth": 1.3}, "data": {"name": "panels"}, "transform": [{"filter": "datum.panel == 'Party ID'"}], "mark": {"type": "text", "fontSize": 18.5, "color": "#1A1A1A", "lineBreak": "\n", "lineHeight": 20}, "encoding": {"text": {"field": "label"}}},
            {"width": 167, "height": 505, "view": {"fill": "white", "stroke": "#333333", "strokeWidth": 1.3}, "data": {"name": "cv"}, "transform": [{"filter": "datum.panel == 'Party ID'"}],
             "encoding": {"y": {"field": "variable", "type": "nominal", "scale": {"type": "point", "padding": 0.6, "domain": ["Gender","Race / Ethnicity","Age","Education","Attends Church","Patriotism","Discusses Politics","Political Interest","2016 Vote","Ideology","Party ID"]}, "axis": {"title": null, "labels": false, "ticks": false}}},
             "layer": [
               {"transform": [{"pivot": "source", "value": "cramer", "groupby": ["variable"]}], "mark": {"type": "rule", "color": "black", "strokeWidth": 1.6}, "encoding": {"x": {"field": "GPT−3", "type": "quantitative", "scale": {"domain": [-0.0218, 0.5008], "nice": false, "zero": false}, "axis": {"title": null, "values": [0,0.05,0.1,0.15,0.2,0.25,0.3,0.35,0.4,0.45], "labelExpr": "round(datum.value*100) % 10 == 0 ? format(datum.value, '.1f') : ''", "labelOverlap": false, "labelFlush": false, "gridWidth": {"condition": {"test": "round(datum.value*100) % 10 != 0", "value": 0.75}, "value": 1.5}, "tickOpacity": {"condition": {"test": "round(datum.value*100) % 10 != 0", "value": 0}, "value": 1}}}, "x2": {"field": "Human"}}},
               {"mark": {"type": "point", "filled": true, "size": 235, "opacity": 1}, "encoding": {"x": {"field": "cramer", "type": "quantitative", "scale": {"domain": [-0.0218, 0.5008], "nice": false, "zero": false}}, "color": {"field": "source", "type": "nominal", "title": "Source", "scale": {"domain": ["GPT−3","Human"], "range": ["#A6CEE3","#1F78B4"]}}, "shape": {"field": "source", "type": "nominal", "title": "Source", "scale": {"domain": ["GPT−3","Human"], "range": ["circle","square"]}}, "order": {"field": "source", "sort": "descending"}}}
             ]}
          ]},
          {"bounds": "flush", "spacing": 0, "vconcat": [
            {"width": 167, "height": 53, "view": {"fill": "#D9D9D9", "stroke": "#333333", "strokeWidth": 1.3}, "data": {"name": "panels"}, "transform": [{"filter": "datum.panel == 'Patriotism'"}], "mark": {"type": "text", "fontSize": 18.5, "color": "#1A1A1A", "lineBreak": "\n", "lineHeight": 20}, "encoding": {"text": {"field": "label"}}},
            {"width": 167, "height": 505, "view": {"fill": "white", "stroke": "#333333", "strokeWidth": 1.3}, "data": {"name": "cv"}, "transform": [{"filter": "datum.panel == 'Patriotism'"}],
             "encoding": {"y": {"field": "variable", "type": "nominal", "scale": {"type": "point", "padding": 0.6, "domain": ["Gender","Race / Ethnicity","Age","Education","Attends Church","Patriotism","Discusses Politics","Political Interest","2016 Vote","Ideology","Party ID"]}, "axis": {"title": null, "labels": false, "ticks": false}}},
             "layer": [
               {"transform": [{"pivot": "source", "value": "cramer", "groupby": ["variable"]}], "mark": {"type": "rule", "color": "black", "strokeWidth": 1.6}, "encoding": {"x": {"field": "GPT−3", "type": "quantitative", "scale": {"domain": [-0.0218, 0.5008], "nice": false, "zero": false}, "axis": {"title": null, "values": [0,0.05,0.1,0.15,0.2,0.25,0.3,0.35,0.4,0.45], "labelExpr": "round(datum.value*100) % 10 == 0 ? format(datum.value, '.1f') : ''", "labelOverlap": false, "labelFlush": false, "gridWidth": {"condition": {"test": "round(datum.value*100) % 10 != 0", "value": 0.75}, "value": 1.5}, "tickOpacity": {"condition": {"test": "round(datum.value*100) % 10 != 0", "value": 0}, "value": 1}}}, "x2": {"field": "Human"}}},
               {"mark": {"type": "point", "filled": true, "size": 235, "opacity": 1}, "encoding": {"x": {"field": "cramer", "type": "quantitative", "scale": {"domain": [-0.0218, 0.5008], "nice": false, "zero": false}}, "color": {"field": "source", "type": "nominal", "title": "Source", "scale": {"domain": ["GPT−3","Human"], "range": ["#A6CEE3","#1F78B4"]}}, "shape": {"field": "source", "type": "nominal", "title": "Source", "scale": {"domain": ["GPT−3","Human"], "range": ["circle","square"]}}, "order": {"field": "source", "sort": "descending"}}}
             ]}
          ]}
        ]
      }
    ]
  },
  {
    "width": 1300, "height": 78,
    "data": {"values": [{"caption": "Figure 11: Cramer’s V Correlations in ANES vs. GPT-3 Data, using Entirely Synthetic GPT-3 Calculations"}]},
    "mark": {"type": "text", "fontSize": 30.4, "color": "black", "dy": 10},
    "encoding": {"text": {"field": "caption"}}
  },
  {
    "spacing": 0,
    "hconcat": [
      {"width": 251, "height": 10, "data": {"values": []}, "mark": {"type": "text"}},
      {
        "spacing": 0,
        "vconcat": [
          {"spacing": -2.4, "hconcat": [
            {"width": 236, "height": 48, "data": {"name": "tableHeader"}, "transform": [{"filter": "datum.column == 'Summary Statistic'"}], "encoding": {"y": {"field": "part", "type": "nominal", "axis": null, "scale": {"paddingInner": 0, "paddingOuter": 0}}}, "layer": [
              {"mark": {"type": "text", "fontSize": 30.3, "color": "black"}, "encoding": {"text": {"field": "column"}}},
              {"mark": {"type": "rule", "color": "black", "strokeWidth": 2.4}, "encoding": {"y": {"field": "part", "type": "nominal", "bandPosition": 0}}},
              {"mark": {"type": "rule", "color": "black", "strokeWidth": 1.4}, "encoding": {"y": {"field": "part", "type": "nominal", "bandPosition": 1}}}
            ]},
            {"width": 242, "height": 48, "data": {"name": "tableHeader"}, "transform": [{"filter": "datum.column == 'Temp: 0.001'"}], "encoding": {"y": {"field": "part", "type": "nominal", "axis": null, "scale": {"paddingInner": 0, "paddingOuter": 0}}}, "layer": [
              {"mark": {"type": "text", "fontSize": 30.3, "color": "black"}, "encoding": {"text": {"field": "column"}}},
              {"mark": {"type": "rule", "color": "black", "strokeWidth": 2.4}, "encoding": {"y": {"field": "part", "type": "nominal", "bandPosition": 0}}},
              {"mark": {"type": "rule", "color": "black", "strokeWidth": 1.4}, "encoding": {"y": {"field": "part", "type": "nominal", "bandPosition": 1}}}
            ]},
            {"width": 130, "height": 48, "data": {"name": "tableHeader"}, "transform": [{"filter": "datum.column == 'Temp: 0.7'"}], "encoding": {"y": {"field": "part", "type": "nominal", "axis": null, "scale": {"paddingInner": 0, "paddingOuter": 0}}}, "layer": [
              {"mark": {"type": "text", "fontSize": 30.3, "color": "black"}, "encoding": {"text": {"field": "column"}}},
              {"mark": {"type": "rule", "color": "black", "strokeWidth": 2.4}, "encoding": {"y": {"field": "part", "type": "nominal", "bandPosition": 0}}},
              {"mark": {"type": "rule", "color": "black", "strokeWidth": 1.4}, "encoding": {"y": {"field": "part", "type": "nominal", "bandPosition": 1}}}
            ]},
            {"width": 184, "height": 48, "data": {"name": "tableHeader"}, "transform": [{"filter": "datum.column == 'Temp: 1.0'"}], "encoding": {"y": {"field": "part", "type": "nominal", "axis": null, "scale": {"paddingInner": 0, "paddingOuter": 0}}}, "layer": [
              {"mark": {"type": "text", "fontSize": 30.3, "color": "black", "dx": 10}, "encoding": {"text": {"field": "column"}}},
              {"mark": {"type": "rule", "color": "black", "strokeWidth": 2.4}, "encoding": {"y": {"field": "part", "type": "nominal", "bandPosition": 0}}},
              {"mark": {"type": "rule", "color": "black", "strokeWidth": 1.4}, "encoding": {"y": {"field": "part", "type": "nominal", "bandPosition": 1}}}
            ]}
          ]},
          {"spacing": -2.4, "hconcat": [
            {"width": 236, "height": 209, "data": {"name": "table"}, "transform": [{"filter": "datum.column == 'Temp: 0.001'"}], "encoding": {"y": {"field": "stat", "type": "nominal", "axis": null, "scale": {"domain": ["Mean","Minimum","Maximum","Standard Deviation","N"], "paddingInner": 0, "paddingOuter": 0.25}}}, "layer": [
              {"mark": {"type": "text", "fontSize": 30.3, "color": "black"}, "encoding": {"text": {"field": "stat"}}},
              {"transform": [{"filter": "datum.stat == 'N'"}], "mark": {"type": "rule", "color": "black", "strokeWidth": 2.4}, "encoding": {"y": {"field": "stat", "type": "nominal", "bandPosition": 1.25}}}
            ]},
            {"width": 242, "height": 209, "data": {"name": "table"}, "transform": [{"filter": "datum.column == 'Temp: 0.001'"}], "encoding": {"y": {"field": "stat", "type": "nominal", "axis": null, "scale": {"domain": ["Mean","Minimum","Maximum","Standard Deviation","N"], "paddingInner": 0, "paddingOuter": 0.25}}}, "layer": [
              {"mark": {"type": "text", "fontSize": 30.3, "color": "black"}, "encoding": {"text": {"field": "value"}}},
              {"transform": [{"filter": "datum.stat == 'N'"}], "mark": {"type": "rule", "color": "black", "strokeWidth": 2.4}, "encoding": {"y": {"field": "stat", "type": "nominal", "bandPosition": 1.25}}}
            ]},
            {"width": 130, "height": 209, "data": {"name": "table"}, "transform": [{"filter": "datum.column == 'Temp: 0.7'"}], "encoding": {"y": {"field": "stat", "type": "nominal", "axis": null, "scale": {"domain": ["Mean","Minimum","Maximum","Standard Deviation","N"], "paddingInner": 0, "paddingOuter": 0.25}}}, "layer": [
              {"mark": {"type": "text", "fontSize": 30.3, "color": "black"}, "encoding": {"text": {"field": "value"}}},
              {"transform": [{"filter": "datum.stat == 'N'"}], "mark": {"type": "rule", "color": "black", "strokeWidth": 2.4}, "encoding": {"y": {"field": "stat", "type": "nominal", "bandPosition": 1.25}}}
            ]},
            {"width": 184, "height": 209, "data": {"name": "table"}, "transform": [{"filter": "datum.column == 'Temp: 1.0'"}], "encoding": {"y": {"field": "stat", "type": "nominal", "axis": null, "scale": {"domain": ["Mean","Minimum","Maximum","Standard Deviation","N"], "paddingInner": 0, "paddingOuter": 0.25}}}, "layer": [
              {"mark": {"type": "text", "fontSize": 30.3, "color": "black", "dx": 10}, "encoding": {"text": {"field": "value"}}},
              {"transform": [{"filter": "datum.stat == 'N'"}], "mark": {"type": "rule", "color": "black", "strokeWidth": 2.4}, "encoding": {"y": {"field": "stat", "type": "nominal", "bandPosition": 1.25}}}
            ]}
          ]}
        ]
      }
    ]
  },
  {
    "width": 1300, "height": 114,
    "data": {"values": [{"caption": "Table 17: Average Error in Cramer’s V Based on Varying Temperatures"}]},
    "mark": {"type": "text", "fontSize": 30.4, "color": "black"},
    "encoding": {"text": {"field": "caption"}}
  },
  {
    "width": 1300, "height": 54,
    "title": {"text": "ethnicity is excluded from the calculations for a temperature of 0.001.", "anchor": "start", "fontSize": 30.4, "offset": 86},
    "data": {"values": [{"page": "49"}]},
    "mark": {"type": "text", "fontSize": 30.4, "color": "black"},
    "encoding": {"text": {"field": "page"}}
  }
]
}
